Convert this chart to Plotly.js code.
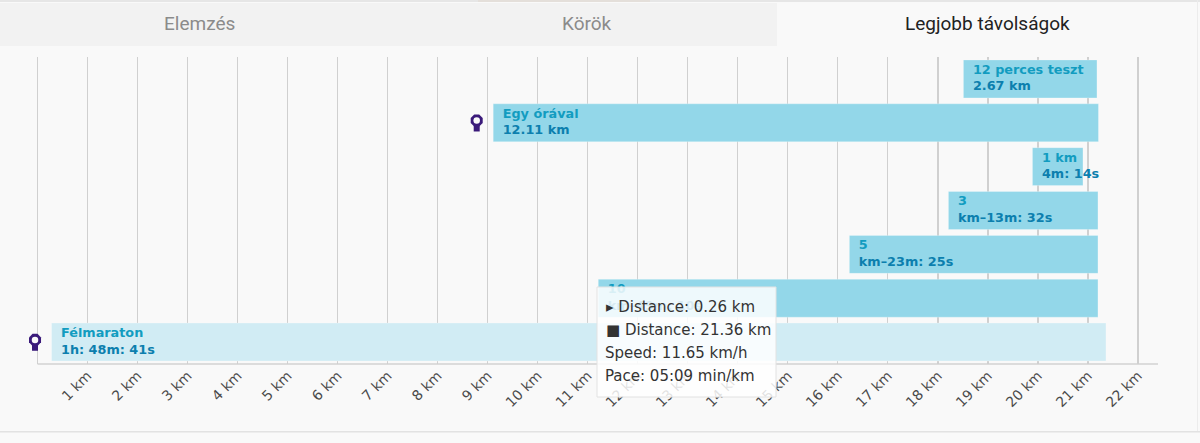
<!DOCTYPE html>
<html>
<head>
<meta charset="utf-8">
<script src="https://cdn.plot.ly/plotly-3.0.1.min.js"></script>
<style>html,body{margin:0;padding:0;background:#f9f9f9;overflow:hidden}</style>
</head>
<body>
<div id="chart" style="width:1200px;height:443px"></div>
<script>
const rowNames = ["Félmaraton","10","5","3","1 km","Egy órával","12 perces teszt"];
const rowResults = ["1h: 48m: 41s","km–49m: 10s","km–23m: 25s","km–13m: 32s","4m: 14s","12.11 km","2.67 km"];
const rowIndex = [0,1,2,3,4,5,6];
const startKm = [0.28,11.21,16.23,18.21,19.89,9.11,18.51];
const endKm = [21.36,21.2,21.2,21.2,20.9,21.21,21.18];
const rowColors = ["#d1ecf4","#93d7e9","#93d7e9","#93d7e9","#93d7e9","#93d7e9","#93d7e9"];
const kmTicks = [1,2,3,4,5,6,7,8,9,10,11,12,13,14,15,16,17,18,19,20,21,22];
const kmLabels = kmTicks.map(k => k + " km");
const medalRows = [0,5];
const tabNames = ["Elemzés","Körök","Legjobb távolságok"];
const tooltipLines = ["▸ Distance: 0.26 km","■ Distance: 21.36 km","Speed: 11.65 km/h","Pace: 05:09 min/km"];

const W = 1200, H = 443, mL = 0, mR = 42, mT = 57, mB = 79;
const pw = W - mL - mR, ph = H - mT - mB;
const px = v => (v - mL) / pw;
const py = v => 1 - (v - mT) / ph;
const rect = (x0,y0,x1,y1,fill,layer,line) => ({type:"rect",xref:"paper",yref:"paper",
  x0:px(x0),x1:px(x1),y0:py(y0),y1:py(y1),fillcolor:fill,layer:layer||"below",
  line:line||{width:0}});

const labelKm = 0.19;
const medalKm = 0.33;
const purple = "#3a1a7a";
const mx = medalRows.map(r => startKm[r] - medalKm);
const medalLayer = (dy,symbol,size,color) => ({type:"scatter",mode:"markers",x:mx,
  y:medalRows.map(r=>r+dy),cliponaxis:false,marker:{symbol,size,color},hoverinfo:"skip"});

const traces = [
  {type:"bar",orientation:"h",y:rowIndex,base:startKm,x:endKm.map((e,i)=>e-startKm[i]),
   width:0.865,marker:{color:rowColors,line:{color:"rgba(255,255,255,0.25)",width:1}},hoverinfo:"skip"},
  {type:"scatter",mode:"text",x:startKm.map(s=>s+labelKm),y:rowIndex,
   text:rowIndex.map(i=>`<span style="color:#129cc0">${rowNames[i]}</span><br><span style="color:#0c7fae">${rowResults[i]}</span>`),
   textposition:"middle right",cliponaxis:false,
   textfont:{family:"DejaVu Sans",size:12.8,weight:700},hoverinfo:"skip"},
  medalLayer(-0.13,"square",6,purple),
  medalLayer(0.05,"octagon",13,purple),
  medalLayer(0.05,"circle",6.5,"#f9f9f9")
];

const tabX = [199,587,987];
const tabColor = ["#8b8b8b","#8b8b8b","#222222"];
const annotations = tabNames.map((t,i)=>({xref:"paper",yref:"paper",x:px(tabX[i]),y:py(24),
  text:t,showarrow:false,xanchor:"center",yanchor:"middle",
  font:{family:"Roboto",size:19,color:tabColor[i]}}));
const tipX = [606,606,605,605], tipY = [307,330,353,376];
tooltipLines.forEach((t,i)=>annotations.push({xref:"paper",yref:"paper",x:px(tipX[i]),y:py(tipY[i]),
  text:t,showarrow:false,xanchor:"left",yanchor:"middle",xshift:-2,
  font:{family:"DejaVu Sans",size:15,color:"#333333"}}));

const shapes = [
  rect(0,3,777,46,"#f2f2f2"),
  rect(0,0,1200,2,"#e6e6e6"),
  rect(478,0,650,2,"#e4dfda"),
  rect(0,431,1200,432.5,"#e2e2e2"),
  rect(1197,0,1198,431,"#ececec"),
  {type:"line",xref:"x",yref:"paper",x0:0,x1:22.4,y0:0,y1:0,layer:"below",line:{color:"#d2d2d2",width:1.5}},
  rect(597,287,776,397,"rgba(255,255,255,0.84)","above",{color:"#e2e2e2",width:1})
];

Plotly.newPlot("chart",traces,{
  width:W,height:H,showlegend:false,
  margin:{l:mL,r:mR,t:mT,b:mB,pad:0},
  paper_bgcolor:"#f9f9f9",plot_bgcolor:"rgba(0,0,0,0)",
  bargap:0,
  xaxis:{range:[-0.75,22.4],tickvals:kmTicks,ticktext:kmLabels,tickangle:-45,
    showgrid:true,gridcolor:"#d0d0d0",gridwidth:1.2,
    zeroline:true,zerolinecolor:"#d0d0d0",zerolinewidth:1.5,
    showline:false,ticks:"",
    tickfont:{family:"DejaVu Sans",size:14,color:"#4a4a4a"}},
  yaxis:{range:[-0.5,6.5],showgrid:false,zeroline:false,showticklabels:false,
    showline:false,ticks:""},
  shapes,annotations
},{displayModeBar:false,staticPlot:true});
</script>
</body>
</html>
